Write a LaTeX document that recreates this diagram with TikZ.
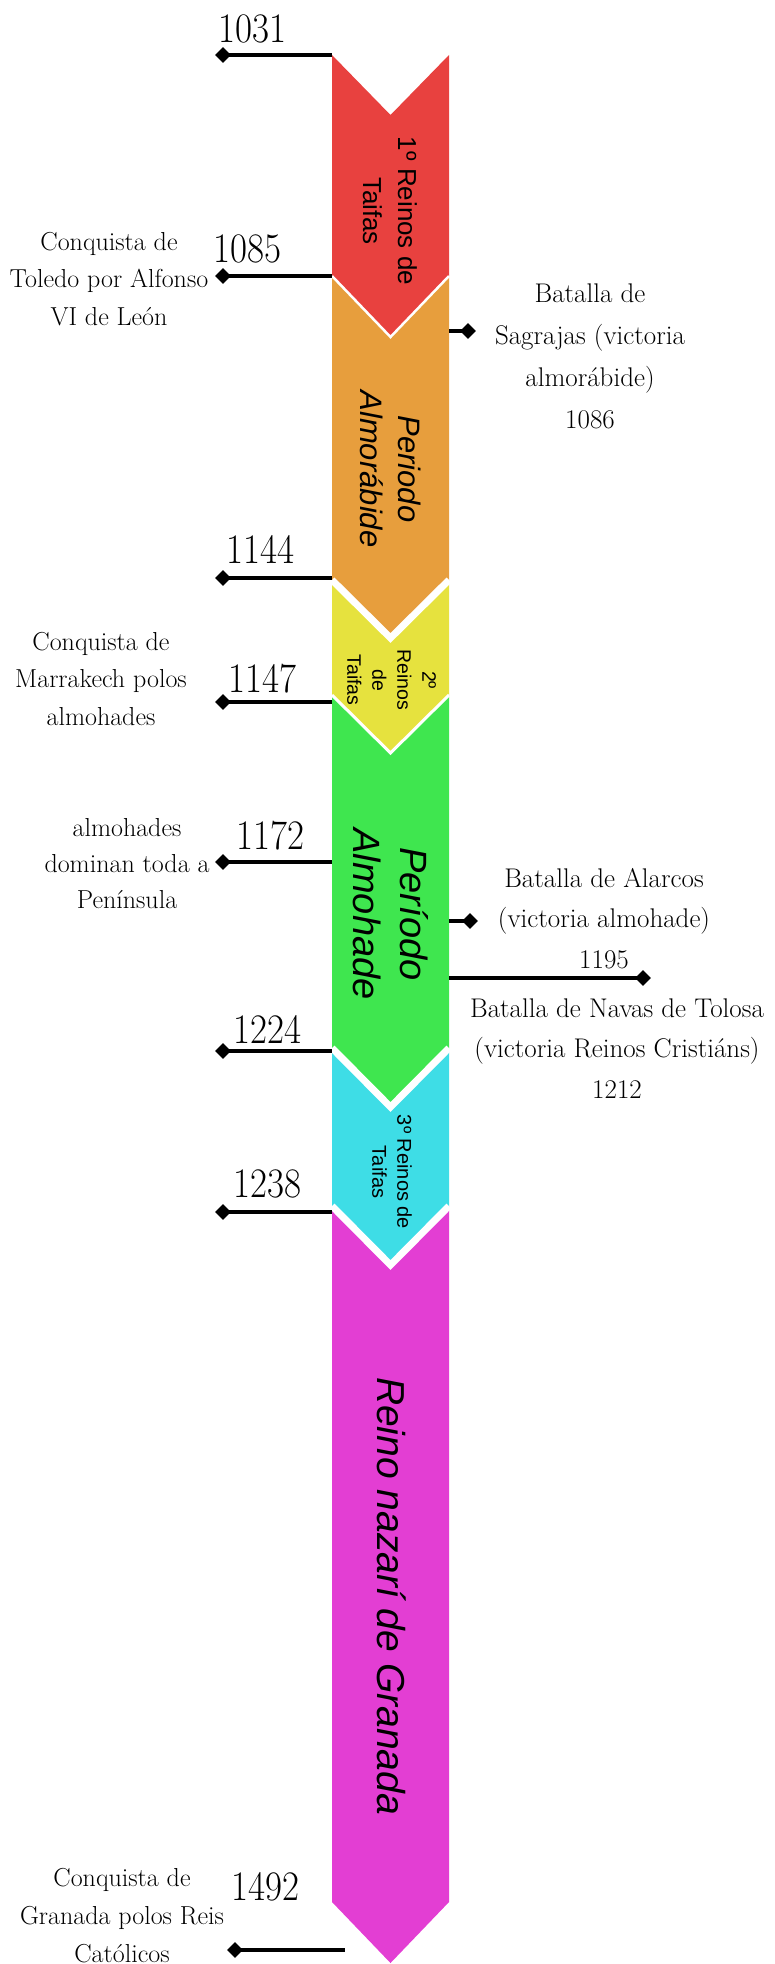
\documentclass[tikz,border=0pt]{standalone}
\usepackage{fontspec}
\newfontfamily\bandsans{Liberation Sans}
\usetikzlibrary{shapes.geometric}
\definecolor{cred}{RGB}{232,65,63}
\definecolor{corange}{RGB}{231,158,61}
\definecolor{cyellow}{RGB}{230,226,62}
\definecolor{cgreen}{RGB}{63,230,79}
\definecolor{ccyan}{RGB}{62,221,230}
\definecolor{cmagenta}{RGB}{227,62,211}
\newcommand{\yrtxt}[1]{\scalebox{0.88}[1]{\fontsize{42}{42}\selectfont #1}}
\tikzset{
  conn/.style={line width=3.4pt, black},
  dia/.style={diamond, fill=black, inner sep=0pt, minimum size=16pt},
  yr/.style={anchor=base west, inner sep=0pt},
  ldesc/.style={anchor=base, align=center, inner sep=0pt, font=\fontsize{26}{37.5}\selectfont},
  rdesc/.style={anchor=base, align=center, inner sep=0pt, font=\fontsize{27}{40.5}\selectfont},
  bandlabel/.style={rotate=-90, align=center, inner sep=0pt, text=black},
  gap/.style={white, line width=#1, line join=miter}
}
\begin{document}
\begin{tikzpicture}[x=1pt,y=-1pt]
\useasboundingbox (0,0) rectangle (775,1964);
% band segments
\fill[cred] (332,55) -- (390.5,115) -- (449,55) -- (449,276) -- (390.5,337) -- (332,276) -- cycle;
\fill[corange] (332,276) -- (390.5,337) -- (449,276) -- (449,580) -- (390.5,638) -- (332,580) -- cycle;
\fill[cyellow] (332,580) -- (390.5,638) -- (449,580) -- (449,695) -- (390.5,753) -- (332,695) -- cycle;
\fill[cgreen] (332,695) -- (390.5,753) -- (449,695) -- (449,1048) -- (390.5,1107) -- (332,1048) -- cycle;
\fill[ccyan] (332,1048) -- (390.5,1107) -- (449,1048) -- (449,1206) -- (390.5,1265) -- (332,1206) -- cycle;
\fill[cmagenta] (332,1206) -- (390.5,1265) -- (449,1206) -- (449,1902) -- (390.5,1963) -- (332,1902) -- cycle;
% white separators
\draw[gap=2.5pt] (332,276) -- (390.5,337) -- (449,276);
\draw[gap=7pt] (332,580) -- (390.5,638) -- (449,580);
\draw[gap=3pt] (332,695) -- (390.5,753) -- (449,695);
\draw[gap=7pt] (332,1048) -- (390.5,1107) -- (449,1048);
\draw[gap=7pt] (332,1206) -- (390.5,1265) -- (449,1206);

% band labels
\node[bandlabel, font=\bandsans\fontsize{26}{35}\selectfont] (lab1) at (390,211) {1º Reinos de\\Taifas};
\node[bandlabel, font=\bandsans\itshape\fontsize{31}{38}\selectfont] (lab2) at (391,469) {Periodo\\Almorábide};
\node[bandlabel, font=\bandsans\fontsize{19.5}{25}\selectfont] (lab3) at (391.5,680) {2º\\Reinos\\de\\Taifas};
\node[bandlabel, font=\bandsans\itshape\fontsize{38}{47}\selectfont] (lab4) at (391,914) {Período\\Almohade};
\node[bandlabel, font=\bandsans\fontsize{20}{25}\selectfont] (lab5) at (392,1172) {3º Reinos de\\Taifas};
\node[bandlabel, font=\bandsans\itshape\fontsize{39}{47}\selectfont] (lab6) at (392,1596) {Reino nazarí de Granada};

% left connectors
\node[dia] (d1031) at (223,55) {};
\coordinate (e1031) at (332,55);
\node[dia] (d1085) at (223,276) {};
\coordinate (e1085) at (332,276);
\node[dia] (d1144) at (223,578) {};
\coordinate (e1144) at (332,578);
\node[dia] (d1147) at (223,702) {};
\coordinate (e1147) at (332,702);
\node[dia] (d1172) at (223,862) {};
\coordinate (e1172) at (332,862);
\node[dia] (d1224) at (223,1051) {};
\coordinate (e1224) at (332,1051);
\node[dia] (d1238) at (223,1212) {};
\coordinate (e1238) at (332,1212);
\node[dia] (d1492) at (235,1950) {};
\coordinate (e1492) at (345,1950);
\foreach \n in {1031,1085,1144,1147,1172,1224,1238,1492}
  \draw[conn] (d\n.center) -- (e\n);

% right connectors
\coordinate (e1086) at (449,331);
\node[dia] (d1086) at (468,331) {};
\coordinate (e1195a) at (449,921);
\node[dia] (d1195a) at (470,921) {};
\coordinate (e1212) at (449,978);
\node[dia] (d1212) at (643,978) {};
\draw[conn] (e1086) -- (d1086.center);
\draw[conn] (e1195a) -- (d1195a.center);
\draw[conn] (e1212) -- (d1212.center);

% year labels
\node[yr] (y1031) at (218,43) {\yrtxt{1031}};
\node[yr] (y1085) at (213,262) {\yrtxt{1085}};
\node[yr] (y1144) at (226,563) {\yrtxt{1144}};
\node[yr] (y1147) at (228,692) {\yrtxt{1147}};
\node[yr] (y1172) at (236,849) {\yrtxt{1172}};
\node[yr] (y1224) at (233,1043) {\yrtxt{1224}};
\node[yr] (y1238) at (233,1197) {\yrtxt{1238}};
\node[yr] (y1492) at (231,1900) {\yrtxt{1492}};

% descriptions (anchor = baseline of the last line)
\node[ldesc] (tol) at (109,325) {Conquista de\\Toledo por Alfonso\\VI de León};
\node[ldesc] (mar) at (101,725) {Conquista de\\Marrakech polos\\almohades};
\node[ldesc, font=\fontsize{26}{36}\selectfont] (dom) at (127,908) {almohades\\dominan toda a\\Península};
\node[ldesc, font=\fontsize{26}{38}\selectfont] (gra) at (122,1962) {Conquista de\\Granada polos Reis\\Católicos};
\node[rdesc, font=\fontsize{27}{41.7}\selectfont] (sag) at (590,428) {Batalla de\\Sagrajas (victoria\\almorábide)\\1086};
\node[rdesc] (alc) at (604,968) {Batalla de Alarcos\\(victoria almohade)\\1195};
\node[rdesc] (nav) at (617,1098) {Batalla de Navas de Tolosa\\(victoria Reinos Cristiáns)\\1212};
\end{tikzpicture}
\end{document}
